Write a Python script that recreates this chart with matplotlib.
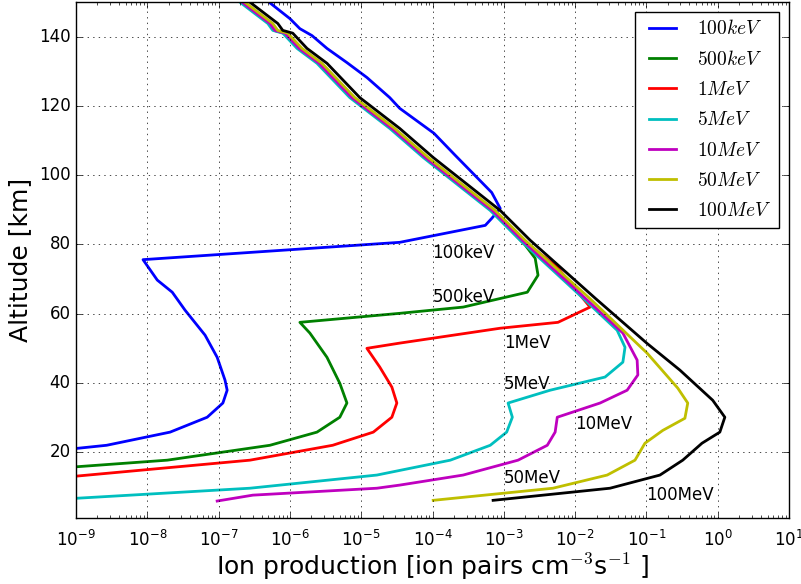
import numpy as np
import matplotlib
matplotlib.use("Agg")
import matplotlib.pyplot as plt

plt.style.use("classic")

labels = ["$100 keV$", "$500 keV$", "$1 MeV$", "$5 MeV$", "$10 MeV$", "$50 MeV$", "$100 MeV$"]
colors = ["b", "g", "r", "c", "m", "y", "k"]

# altitude [km] and log10(ion production)
blue_alt = [150.4, 145.2, 142.3, 140.3, 136.6, 132.5, 128.2, 122.4, 119.3, 112.1, 105.7, 95.0, 90.4,
            87.5, 85.5, 80.6, 75.6, 69.7, 66.2, 61.0, 53.8, 47.4, 40.8, 37.9, 34.2, 30.1, 25.8, 22.0, 21.1]
blue_log = [-6.32, -6.00, -5.86, -5.69, -5.48, -5.20, -4.92, -4.60, -4.46, -3.98, -3.68, -3.17, -3.05,
            -3.17, -3.26, -4.46, -8.06, -7.86, -7.65, -7.47, -7.19, -7.02, -6.91, -6.88, -6.94, -7.16,
            -7.68, -8.57, -8.99]

green_alt = [150.4, 143.8, 141.8, 141.0, 136.6, 132.3, 122.4, 113.5, 105.1, 89.8, 79.8, 76.0, 71.1, 66.2,
             61.9, 60.1, 57.5, 54.4, 47.4, 39.9, 34.2, 30.1, 25.8, 22.0, 17.7, 15.8]
green_log = [-6.71, -6.29, -6.22, -6.08, -5.88, -5.60, -5.14, -4.58, -4.11, -3.17, -2.70, -2.56, -2.52,
             -2.67, -3.57, -4.46, -5.86, -5.72, -5.48, -5.30, -5.20, -5.30, -5.62, -6.28, -7.72, -8.99]

red_alt = [150.4, 143.8, 141.8, 141.0, 136.6, 132.3, 122.4, 113.5, 105.1, 89.8, 81.2, 73.4, 61.9, 57.5,
           55.8, 51.5, 50.0, 44.6, 38.8, 34.2, 30.1, 25.8, 22.0, 17.7, 13.1]
red_log = [-6.69, -6.27, -6.20, -6.06, -5.86, -5.58, -5.12, -4.56, -4.09, -3.15, -2.73, -2.25, -1.79,
           -2.24, -3.05, -4.46, -4.92, -4.74, -4.57, -4.50, -4.57, -4.83, -5.40, -6.56, -8.99]

cyan_alt = [150.4, 143.8, 141.8, 141.0, 136.6, 132.3, 122.4, 113.5, 105.1, 89.8, 81.2, 64.5, 55.2, 50.3,
            46.0, 41.7, 37.9, 34.2, 30.1, 25.8, 22.0, 17.7, 13.4, 9.6, 6.7]
cyan_log = [-6.73, -6.31, -6.24, -6.10, -5.90, -5.62, -5.16, -4.60, -4.13, -3.19, -2.77, -1.89, -1.41,
            -1.30, -1.33, -1.58, -2.35, -2.94, -2.88, -2.96, -3.19, -3.75, -4.78, -6.56, -8.99]

magenta_alt = [150.4, 143.8, 141.8, 141.0, 136.6, 132.3, 122.4, 113.5, 105.1, 89.8, 81.2, 64.5, 54.4,
               46.6, 42.3, 37.9, 34.2, 30.1, 25.8, 22.0, 17.7, 13.4, 10.5, 9.6, 7.6, 5.9]
magenta_log = [-6.70, -6.28, -6.21, -6.07, -5.87, -5.59, -5.13, -4.57, -4.10, -3.16, -2.74, -1.86, -1.33,
               -1.13, -1.12, -1.27, -1.65, -2.25, -2.28, -2.39, -2.80, -3.57, -4.46, -4.78, -6.52, -7.02]

yellow_alt = [150.4, 143.8, 141.8, 141.0, 136.6, 132.3, 122.4, 113.5, 105.1, 89.8, 81.2, 64.5, 48.6,
              38.5, 34.2, 29.8, 26.3, 22.6, 17.7, 13.4, 9.6, 6.1]
yellow_log = [-6.66, -6.24, -6.17, -6.03, -5.83, -5.55, -5.09, -4.53, -4.06, -3.12, -2.70, -1.80, -0.99,
              -0.56, -0.42, -0.46, -0.77, -1.02, -1.16, -1.55, -2.31, -3.99]

black_alt = [150.4, 143.8, 141.8, 141.0, 136.6, 132.3, 122.4, 113.5, 105.1, 89.8, 81.2, 64.5, 51.4,
             43.7, 35.0, 30.1, 25.8, 22.6, 17.7, 13.4, 9.6, 6.1]
black_log = [-6.59, -6.17, -6.10, -5.96, -5.76, -5.48, -5.02, -4.46, -3.99, -3.05, -2.63, -1.72, -0.99,
             -0.53, -0.07, 0.10, 0.03, -0.22, -0.49, -0.81, -1.51, -3.15]

series_alt = [blue_alt, green_alt, red_alt, cyan_alt, magenta_alt, yellow_alt, black_alt]
series_log = [blue_log, green_log, red_log, cyan_log, magenta_log, yellow_log, black_log]

note_text = ["100keV", "500keV", "1MeV", "5MeV", "10MeV", "50MeV", "100MeV"]
note_x = [1e-4, 1e-4, 1e-3, 1e-3, 1e-2, 1e-3, 1e-1]
note_y = [76.0, 63.4, 50.1, 38.2, 26.8, 11.0, 6.2]

fig = plt.figure(figsize=(8.01, 5.84), dpi=100)
ax = fig.add_axes([76 / 801, 1 - 518 / 584, (789 - 76) / 801, (518 - 2) / 584])

for alt, lg, c, lab in zip(series_alt, series_log, colors, labels):
    ax.plot(10 ** np.array(lg), alt, color=c, lw=2, label=lab)

for t, x, y in zip(note_text, note_x, note_y):
    ax.text(x, y, t, fontsize=12, ha="left", va="baseline")

ax.set_xscale("log")
ax.set_xlim(1e-9, 1e1)
ax.set_ylim(1, 150)
ax.grid(True)
ax.tick_params(axis="x", which="major", pad=8.5)
ax.set_xlabel(r"Ion production [ion pairs cm$^{-3}$s$^{-1}$ ]", fontsize=18, labelpad=1)
ax.set_ylabel("Altitude [km]", fontsize=18)
ax.legend(loc="upper right", fontsize=14, labelspacing=0.58)

fig.savefig("out.png", dpi=100)
